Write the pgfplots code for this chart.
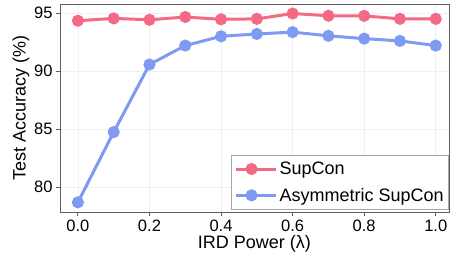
\documentclass[border=0pt]{standalone}
\usepackage{fontspec}
\setmainfont{Liberation Sans}
\usepackage{pgfplots}
\pgfplotsset{compat=1.18}
\definecolor{cpink}{RGB}{244,106,132}
\definecolor{cblue}{RGB}{126,154,242}
\definecolor{cframe}{RGB}{95,95,95}
\begin{document}
\begin{tikzpicture}
\begin{axis}[
  name=ax,
  scale only axis,
  width=389pt, height=208pt,
  xmin=-0.05, xmax=1.037,
  ymin=77.87, ymax=95.78,
  xtick={0,0.2,0.4,0.6,0.8,1.0},
  ytick={80,85,90,95},
  xticklabel style={/pgf/number format/.cd,fixed,fixed zerofill,precision=1},
  /pgf/number format/assume math mode=true,
  tick label style={font=\fontsize{16.5}{18}\selectfont, color=black},
  label style={font=\fontsize{18}{20}\selectfont},
  xlabel={IRD Power (λ)},
  ylabel={Test Accuracy (\%)},
  xlabel style={yshift=3pt},
  ylabel style={yshift=-2pt},
  axis line style={cframe, line width=0.9pt},
  tick style={cframe, line width=0.8pt},
  tick align=outside,
  major tick length=4pt,
  xtick pos=bottom, ytick pos=left,
  grid=major,
  major grid style={gray!12, line width=0.6pt},
  legend style={at={(rel axis cs:1,0)}, anchor=south east, xshift=0pt, yshift=2pt,
    font=\fontsize{18}{20}\selectfont, draw=gray!70, line width=0.8pt, fill=white,
    inner xsep=3pt, inner ysep=5pt, row sep=8pt, legend cell align=left},
  legend image code/.code={
    \path (0pt,0pt) -- (40pt,0pt);
    \draw[#1, line width=3pt] (0pt,0pt) -- (31pt,0pt);
    \fill[#1] (15.5pt,0pt) circle (4.5pt);
  },
]
\addplot[cpink, line width=3pt, mark=*, mark size=4.5pt, mark options={solid}] coordinates {
(0.0,94.34) (0.1,94.54) (0.2,94.42) (0.3,94.66) (0.4,94.46) (0.5,94.50)
(0.6,94.96) (0.7,94.77) (0.8,94.76) (0.9,94.50) (1.0,94.50)};
\addlegendentry{SupCon}
\addplot[cblue, line width=3pt, mark=*, mark size=4.5pt, mark options={solid}] coordinates {
(0.0,78.7) (0.1,84.75) (0.2,90.57) (0.3,92.2) (0.4,93.0) (0.5,93.2)
(0.6,93.36) (0.7,93.04) (0.8,92.8) (0.9,92.6) (1.0,92.2)};
\addlegendentry{Asymmetric SupCon}
\end{axis}
\path (ax.south west) ++(-60pt,-46pt) coordinate (bl);
\path (ax.north east) ++(1pt,4pt) coordinate (tr);
\pgfresetboundingbox
\useasboundingbox (bl) rectangle (tr);
\end{tikzpicture}
\end{document}
